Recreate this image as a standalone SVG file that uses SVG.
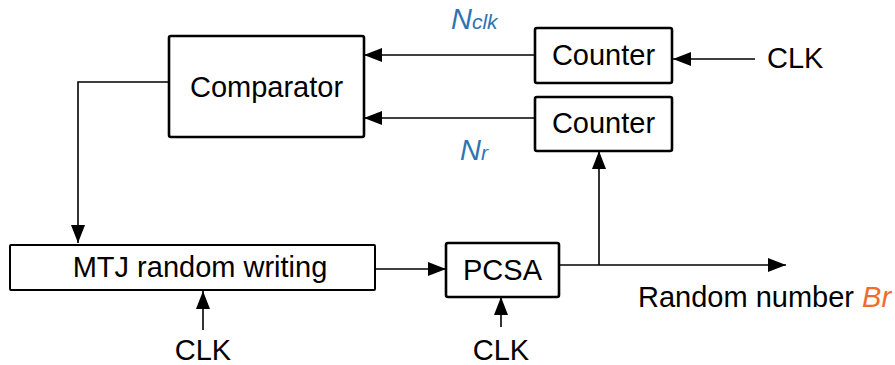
<svg xmlns="http://www.w3.org/2000/svg" width="895" height="365" viewBox="0 0 895 365">
<style>
.box{fill:#fff;stroke:#000;stroke-width:2.6}
.t{font-family:"Liberation Sans",Arial,sans-serif;font-size:29px;fill:#000}
.w{fill:none;stroke:#000;stroke-width:1.6}
.blue{fill:#2E74B5;font-style:italic}
.or{fill:#F26B2E;font-style:italic}
</style>
<defs>
<marker id="ah" viewBox="0 0 18 14" refX="18" refY="7" markerWidth="18" markerHeight="14" markerUnits="userSpaceOnUse" orient="auto">
<path d="M0,0 L18,7 L0,14 Z" fill="#000"/>
</marker>
</defs>
<g id="connectors">
<path class="w" d="M535,55 H364" marker-end="url(#ah)"/>
<path class="w" d="M535,118 H364" marker-end="url(#ah)"/>
<path class="w" d="M755,59 H673" marker-end="url(#ah)"/>
<path class="w" d="M169,82 H78 V243" marker-end="url(#ah)"/>
<path class="w" d="M375,269 H446" marker-end="url(#ah)"/>
<path class="w" d="M559,265 H786" marker-end="url(#ah)"/>
<path class="w" d="M599,265 V151" marker-end="url(#ah)"/>
<path class="w" d="M203,330 V291" marker-end="url(#ah)"/>
<path class="w" d="M501,327 V297" marker-end="url(#ah)"/>
</g>
<g id="comparator">
<rect class="box" x="169" y="36" width="195" height="101" rx="2"/>
<text class="t" x="266.5" y="97" text-anchor="middle">Comparator</text>
</g>
<g id="counter1">
<rect class="box" x="535" y="28" width="137" height="55" rx="2"/>
<text class="t" x="603.5" y="65" text-anchor="middle">Counter</text>
</g>
<g id="counter2">
<rect class="box" x="535" y="97" width="137" height="54" rx="2"/>
<text class="t" x="603.5" y="133" text-anchor="middle">Counter</text>
</g>
<g id="mtj">
<rect class="box" x="10" y="245" width="365" height="45" rx="1" style="stroke-width:2"/>
<text class="t" x="200" y="277" text-anchor="middle">MTJ random writing</text>
</g>
<g id="pcsa">
<rect class="box" x="446" y="243" width="113" height="54" rx="2"/>
<text class="t" x="502.5" y="280" text-anchor="middle">PCSA</text>
</g>
<g id="labels">
<text class="t" x="767" y="68">CLK</text>
<text class="t" x="203" y="360" text-anchor="middle">CLK</text>
<text class="t" x="501" y="360" text-anchor="middle">CLK</text>
<text class="t" x="638" y="307">Random number <tspan class="or">Br</tspan></text>
<text class="t blue" x="451" y="29">N<tspan style="font-size:21px">clk</tspan></text>
<text class="t blue" x="460" y="160">N<tspan style="font-size:21px">r</tspan></text>
</g>
</svg>
